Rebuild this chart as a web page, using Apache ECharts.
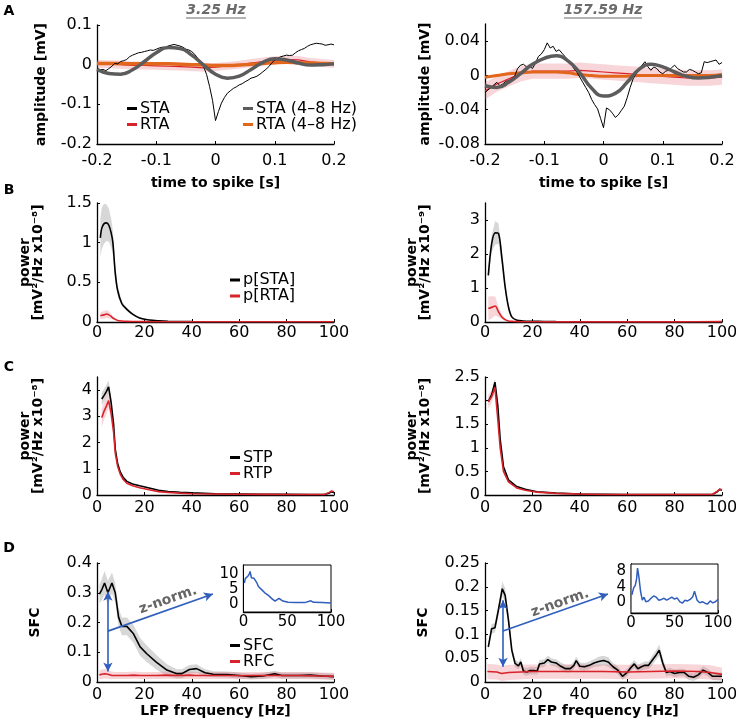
<!DOCTYPE html>
<html><head><meta charset="utf-8">
<script src="https://cdn.jsdelivr.net/npm/echarts@6/dist/echarts.min.js"></script>
<style>html,body{margin:0;padding:0;background:#fff}#c{width:736px;height:724px}</style>
</head><body><div id="c"></div>
<script>
// ---------------- DATA ----------------
// Panel A time grids (s)
const tFine = []; for (let i = 0; i <= 80; i++) tFine.push(Math.round((-0.2 + i * 0.005) * 1000) / 1000);
const tCoarse = []; for (let i = 0; i <= 20; i++) tCoarse.push(Math.round((-0.2 + i * 0.02) * 100) / 100);

// A left (3.25 Hz)
const staL = [-0.009,-0.013,-0.012,-0.015,-0.010,-0.004,0.003,0.002,0.008,0.010,
  0.013,0.020,0.024,0.027,0.030,0.031,0.033,0.035,0.037,0.036,
  0.039,0.042,0.044,0.043,0.047,0.049,0.051,0.049,0.047,0.044,
  0.039,0.037,0.033,0.026,0.016,0.006,-0.005,-0.025,-0.055,-0.090,
  -0.141,-0.118,-0.097,-0.083,-0.072,-0.066,-0.060,-0.056,-0.051,-0.048,
  -0.043,-0.039,-0.034,-0.032,-0.029,-0.024,-0.018,-0.012,-0.005,0.004,
  0.012,0.016,0.020,0.022,0.024,0.023,0.024,0.030,0.035,0.038,
  0.041,0.046,0.050,0.052,0.054,0.053,0.052,0.049,0.050,0.052,0.050];
const staFiltL = [-0.012,-0.022,-0.024,-0.013,0.008,0.030,0.043,0.041,0.024,-0.001,
  -0.024,-0.034,-0.029,-0.012,0.006,0.015,0.012,0.004,-0.001,0.000,0.002];
const rtaL = [0.002,0.001,0.000,-0.002,-0.002,-0.003,-0.004,-0.005,-0.006,-0.008,
  -0.006,-0.003,0.000,0.004,0.008,0.011,0.013,0.012,0.007,0.004,0.002];
const rtaErrL = [0.010,0.010,0.010,0.010,0.010,0.010,0.010,0.010,0.010,0.010,
  0.010,0.010,0.010,0.010,0.010,0.010,0.010,0.010,0.010,0.010,0.010];
const rtaFiltL = [0.003,0.003,0.003,0.002,0.002,0.002,0.002,0.001,0.000,-0.001,
  -0.002,-0.002,-0.001,0.001,0.003,0.005,0.006,0.005,0.004,0.003,0.002];

// A right (157.59 Hz)
const staR = [-0.020,-0.017,-0.014,-0.011,-0.008,-0.012,-0.010,-0.007,-0.006,-0.004,
  -0.001,0.008,0.012,0.013,0.010,0.011,0.008,0.014,0.022,0.025,
  0.030,0.038,0.032,0.034,0.028,0.030,0.026,0.022,0.018,0.014,
  0.008,0.004,-0.002,-0.008,-0.014,-0.020,-0.028,-0.034,-0.039,-0.050,
  -0.061,-0.038,-0.040,-0.044,-0.049,-0.046,-0.041,-0.036,-0.026,-0.014,
  -0.004,0.002,0.007,0.012,0.016,0.010,0.006,0.010,0.008,0.004,
  0.002,0.005,0.006,0.009,0.012,0.008,0.006,0.004,0.004,0.007,
  0.006,0.004,0.002,0.003,0.016,0.015,0.016,0.017,0.018,0.013,0.015];
const staFiltR = [-0.012,-0.014,-0.008,0.002,0.013,0.020,0.023,0.017,0.003,-0.015,
  -0.024,-0.021,-0.008,0.007,0.013,0.010,0.004,-0.001,-0.003,-0.002,0.000];
const rtaR = [-0.018,-0.010,-0.004,0.002,0.005,0.005,0.005,0.005,0.006,0.005,
  0.004,0.003,0.002,0.001,0.000,-0.001,-0.002,-0.003,-0.003,-0.003,-0.002];
const rtaErrR = [0.010,0.009,0.009,0.009,0.009,0.009,0.009,0.009,0.009,0.009,
  0.009,0.009,0.009,0.009,0.009,0.009,0.009,0.009,0.009,0.009,0.009];
const rtaFiltR = [-0.002,0.000,0.002,0.003,0.004,0.004,0.004,0.003,0.001,0.000,
  -0.001,-0.001,-0.001,0.000,0.000,0.000,0.000,0.000,0.000,0.000,0.001];

// B left: power of STA / RTA (x1e-8)
const bFreqL = [1.4,2,3,4,5,6,6.7,7.7,8.7,10.5,12.6,15,18,22,26,30,40,60,80,100];
const pStaL = [1.06,1.18,1.24,1.25,1.22,1.12,1.0,0.62,0.40,0.23,0.16,0.10,0.05,0.025,0.015,0.01,0.005,0.003,0.002,0.002];
const pStaErrL = [0.24,0.26,0.25,0.23,0.21,0.18,0.15,0.1,0.06,0.03,0.02,0.015,0.01,0.005,0.004,0.003,0.002,0.001,0.001,0.001];
const pRtaL = [0.08,0.085,0.09,0.1,0.09,0.07,0.05,0.035,0.02,0.012,0.008,0.006,0.005,0.004,0.003,0.003,0.003,0.003,0.003,0.003];
const pRtaErrL = [0.04,0.045,0.05,0.05,0.045,0.03,0.02,0.012,0.006,0.004,0.003,0.002,0.002,0.002,0.002,0.002,0.002,0.002,0.002,0.002];

// B right (x1e-9)
const bFreqR = [1.4,2.8,4.3,5.7,7.1,8.5,9.9,11.3,13.5,16,20,25,30,40,60,80,100];
const pStaR = [1.37,2.3,2.62,2.6,1.9,1.03,0.44,0.15,0.05,0.03,0.02,0.015,0.01,0.005,0.003,0.003,0.003];
const pStaErrR = [0.12,0.25,0.35,0.3,0.2,0.1,0.05,0.02,0.01,0.005,0.004,0.003,0.002,0.002,0.002,0.002,0.002];
const pRtaR = [0.4,0.43,0.47,0.3,0.15,0.07,0.03,0.02,0.01,0.008,0.006,0.005,0.005,0.005,0.005,0.005,0.01];
const pRtaErrR = [0.35,0.33,0.28,0.15,0.07,0.03,0.015,0.01,0.005,0.004,0.003,0.003,0.003,0.003,0.003,0.003,0.003];

// C left: STP / RTP (x1e-8)
const cFreqL = [2,3,4,4.9,6,7,7.7,8.7,9.8,11,12.6,15,18,22,26,30,35,40,50,60,70,80,90,96,98,99,100];
const stpL = [3.66,3.8,3.95,4.12,3.5,2.7,1.75,1.2,0.88,0.68,0.52,0.42,0.35,0.27,0.18,0.13,0.1,0.08,0.05,0.04,0.03,0.025,0.02,0.02,0.08,0.12,0.09];
const stpErrL = [0.25,0.25,0.25,0.25,0.2,0.15,0.08,0.05,0.04,0.03,0.025,0.02,0.02,0.015,0.01,0.01,0.01,0.01,0.008,0.006,0.005,0.005,0.005,0.005,0.01,0.01,0.01];
const rtpL = [2.95,3.2,3.4,3.6,3.1,2.4,1.6,1.1,0.8,0.6,0.45,0.35,0.28,0.2,0.13,0.1,0.07,0.05,0.04,0.03,0.025,0.02,0.02,0.02,0.1,0.15,0.12];
const rtpErrL = [0.35,0.33,0.3,0.28,0.22,0.15,0.08,0.05,0.04,0.03,0.025,0.02,0.02,0.015,0.01,0.01,0.01,0.01,0.008,0.006,0.005,0.005,0.005,0.005,0.02,0.02,0.02];

// C right (x1e-8)
const cFreqR = [1.4,2.8,4.2,5.4,6.4,7.8,9.9,13.4,17,21.9,30,40,50,60,70,80,90,96,98,99,100];
const stpR = [1.98,2.12,2.39,1.89,1.18,0.6,0.32,0.18,0.12,0.07,0.04,0.02,0.015,0.01,0.01,0.01,0.01,0.01,0.07,0.12,0.1];
const stpErrR = [0.06,0.07,0.08,0.06,0.04,0.03,0.02,0.01,0.01,0.008,0.005,0.004,0.003,0.003,0.003,0.003,0.003,0.003,0.01,0.01,0.01];
const rtpR = [1.98,2.08,2.28,1.6,1.0,0.5,0.28,0.15,0.1,0.06,0.035,0.02,0.012,0.01,0.01,0.01,0.01,0.01,0.08,0.12,0.11];
const rtpErrR = [0.15,0.13,0.1,0.06,0.04,0.03,0.02,0.01,0.01,0.008,0.005,0.004,0.003,0.003,0.003,0.003,0.003,0.003,0.01,0.01,0.01];

// D left: SFC / RFC
const dFreqL = [1,2,3.2,4.6,6.3,7.7,9.1,10.5,12.6,15.4,18.2,21,25,29.5,33.7,35.8,39,42,45.6,49,55,60,65,70,75,78,85,90,95,100];
const sfcL = [0.295,0.31,0.333,0.30,0.333,0.30,0.218,0.187,0.187,0.162,0.118,0.095,0.067,0.04,0.028,0.028,0.042,0.045,0.031,0.026,0.025,0.022,0.018,0.02,0.028,0.022,0.022,0.023,0.02,0.018];
const sfcErrL = [0.03,0.035,0.04,0.04,0.035,0.032,0.03,0.03,0.03,0.03,0.03,0.028,0.025,0.02,0.015,0.015,0.015,0.015,0.012,0.01,0.01,0.01,0.01,0.01,0.01,0.01,0.01,0.01,0.01,0.01];
const rfcL = [0.024,0.026,0.028,0.026,0.022,0.022,0.022,0.022,0.022,0.023,0.022,0.022,0.022,0.023,0.022,0.022,0.023,0.022,0.022,0.022,0.022,0.021,0.022,0.022,0.022,0.022,0.022,0.021,0.02,0.019];
const rfcErrL = [0.015,0.016,0.016,0.015,0.013,0.012,0.012,0.012,0.012,0.012,0.012,0.012,0.012,0.012,0.012,0.012,0.012,0.012,0.012,0.012,0.012,0.012,0.012,0.012,0.012,0.012,0.012,0.012,0.012,0.012];

// D right
const dFreqR = [1.4,2.8,4.2,5.6,7.3,8.5,9.9,11.3,12.7,14.1,
  15.1,16.2,17.6,19,20.5,22,23,25,26.5,28,
  30,32,34,36,37.5,38.5,40,42,44,46,
  48,50,52,54,56,58,60,61.5,63,64.5,
  66,67.5,69,70.5,72,73.5,75,76.5,78,80,
  82,84,86,88,90,92,94,96,98,100];
const sfcR = [0.074,0.112,0.114,0.15,0.196,0.182,0.13,0.067,0.039,0.034,
  0.042,0.023,0.021,0.024,0.024,0.023,0.038,0.040,0.047,0.042,
  0.040,0.033,0.028,0.028,0.035,0.045,0.033,0.032,0.035,0.040,
  0.043,0.045,0.042,0.032,0.025,0.012,0.020,0.030,0.038,0.028,
  0.032,0.035,0.035,0.045,0.055,0.067,0.040,0.020,0.022,0.018,
  0.020,0.020,0.012,0.010,0.015,0.025,0.020,0.012,0.012,0.012];
const sfcErrR = [0.008,0.01,0.01,0.012,0.015,0.015,0.012,0.01,0.008,0.008,
  0.008,0.008,0.008,0.008,0.008,0.008,0.008,0.008,0.008,0.008,
  0.008,0.008,0.008,0.008,0.008,0.008,0.008,0.008,0.008,0.008,
  0.01,0.01,0.01,0.008,0.008,0.008,0.008,0.008,0.008,0.008,
  0.008,0.008,0.008,0.01,0.01,0.012,0.01,0.008,0.008,0.008,
  0.008,0.008,0.008,0.008,0.008,0.008,0.008,0.008,0.008,0.008];
const rfcFreqR = [1,5,7,10,20,30,40,50,60,70,80,90,95,100];
const rfcR = [0.022,0.021,0.018,0.02,0.022,0.022,0.022,0.022,0.021,0.022,0.023,0.022,0.02,0.016];
const rfcErrR = [0.016,0.016,0.016,0.016,0.015,0.015,0.015,0.015,0.015,0.015,0.015,0.015,0.015,0.014];

// Insets: z-normalised SFC
const zFreqL = [1,2,3.5,5,6.5,7.5,9,10.5,12,14,15.5,17,19,21,24,28,32,36,40.6,45,51,60,70,77,80,90,100];
const zL = [7.0,8.5,8.6,9.3,10.0,10.9,8.8,8.2,8.6,8.4,7.0,5.9,5.3,4.8,3.9,3.1,2.0,1.1,2.0,1.1,0.7,0.6,0.6,1.2,0.7,0.6,0.5];
const zFreqR = [1,3,5,6.5,7.5,9,11,13,15,17,20,23,26,29,32,35,38,41,44,47,50,53,56,59,62,65,68,71,73,74.5,76,79,82,85,88,91,94,97,100];
const zR = [1.8,3.6,4.4,6.2,8.9,6.7,2.7,0.4,1.2,0.0,0.2,0.9,1.5,1.2,0.4,0.6,0.9,0.4,0.8,1.2,0.7,1.0,0.0,-0.4,0.4,0.2,0.6,1.3,2.8,2.4,0.4,-0.3,0.0,-0.4,-0.6,0.2,-0.3,0.0,0.6];

// Tick values
const ticksTime = [-0.2,-0.1,0,0.1,0.2];
const ticksFreq = [0,20,40,60,80,100];
const ticksInsetX = [0,50,100];
const ticksAL = [-0.2,-0.1,0,0.1];
const ticksAR = [-0.08,-0.04,0,0.04];
const ticksBL = [0,0.5,1,1.5];
const ticksBR = [0,1,2,3];
const ticksCL = [0,1,2,3,4];
const ticksCR = [0,0.5,1,1.5,2,2.5];
const ticksDL = [0,0.1,0.2,0.3,0.4];
const ticksDR = [0,0.05,0.1,0.15,0.2,0.25];
const ticksZL = [0,5,10];
const ticksZR = [0,4,8];

// Annotation arrows (data coords: [freq, SFC])
const arrowVL = [[4.6,0.035],[4.6,0.303]];
const arrowDL = [[4.6,0.171],[48.9,0.296]];
const arrowVR = [[7.6,0.032],[7.6,0.172]];
const arrowDR = [[7.6,0.107],[51.9,0.185]];

// ---------------- STYLE ----------------
const FONT = 'DejaVu Sans';
const BLACK = '#000000', RED = '#d9232a', ORANGE = '#e2661b', GRAYL = '#5c5c5c', BLUE = '#2f5ebd';
const PINK = 'rgba(228,105,115,0.28)', GRAYB = 'rgba(150,150,150,0.38)';

function pairs(xs, ys) { return xs.map((x, i) => [x, ys[i]]); }
function line(name, xs, ys, gi, color, width, z, extra) {
  return Object.assign({
    type: 'line', name, xAxisIndex: gi, yAxisIndex: gi, data: pairs(xs, ys),
    showSymbol: false, symbol: 'none', color: color,
    lineStyle: { color, width }, itemStyle: { color }, animation: false, silent: true, z: z
  }, extra || {});
}
// Confidence band drawn as one polygon through the axis scales (api.coord)
function band(id, xs, ys, es, gi, color) {
  const lo = ys.map((y, i) => y - es[i]);
  const hi = ys.map((y, i) => y + es[i]);
  return [{
    type: 'custom', name: id, xAxisIndex: gi, yAxisIndex: gi, silent: true, animation: false, z: 1,
    data: xs.map((x, i) => [x, lo[i], hi[i]]),
    encode: { x: 0, y: [1, 2] },
    clip: true,
    renderItem: function (params, api) {
      if (params.dataIndex !== 0) return null;
      const pts = [];
      for (let i = 0; i < xs.length; i++) pts.push(api.coord([xs[i], hi[i]]));
      for (let i = xs.length - 1; i >= 0; i--) pts.push(api.coord([xs[i], lo[i]]));
      return { type: 'polygon', shape: { points: pts }, style: { fill: color, stroke: null } };
    }
  }];
}

function grid(left, top, width, height, boxed) {
  return { left, top, width, height, containLabel: false, outerBoundsMode: 'none',
    show: !!boxed, borderColor: '#000', borderWidth: 1, backgroundColor: boxed ? '#fff' : 'transparent', z: boxed ? 5 : 0 };
}
function xAxis(gi, min, max, ticks, name, nameGap, margin, fs) {
  return {
    type: 'value', gridIndex: gi, min, max,
    axisLine: { show: true, onZero: false, lineStyle: { color: '#000', width: 1.3 } },
    axisTick: { show: true, inside: true, length: 3, customValues: ticks, lineStyle: { color: '#000', width: 1 } },
    axisLabel: { show: true, customValues: ticks, margin: margin, color: '#000', fontFamily: FONT, fontSize: fs || 16 },
    splitLine: { show: false },
    name: name || '', nameLocation: 'middle', nameGap: nameGap || 0,
    nameTextStyle: { fontFamily: FONT, fontWeight: 'bold', fontSize: 14, color: '#000' }
  };
}
function yAxis(gi, min, max, ticks, name, nameGap, fs) {
  return {
    type: 'value', gridIndex: gi, min, max,
    axisLine: { show: true, onZero: false, lineStyle: { color: '#000', width: 1.3 } },
    axisTick: { show: true, inside: true, length: 3, customValues: ticks, lineStyle: { color: '#000', width: 1 } },
    axisLabel: { show: true, customValues: ticks, margin: 5, color: '#000', fontFamily: FONT, fontSize: fs || 16 },
    splitLine: { show: false },
    name: name || '', nameLocation: 'middle', nameGap: nameGap || 0, nameRotate: 90,
    nameTextStyle: { fontFamily: FONT, fontWeight: 'bold', fontSize: 14, color: '#000', lineHeight: 13, align: 'center' }
  };
}

const grids = [
  grid(97, 25, 237, 119), grid(485, 24, 237, 120),
  grid(97, 203, 237, 119), grid(485, 203, 237, 119),
  grid(97, 377, 237, 118), grid(485, 377, 237, 118),
  grid(97, 563, 237, 119), grid(485, 563, 237, 119),
  grid(243.5, 565, 87.5, 47, true), grid(631, 564, 87, 49, true)
];
const xAxes = [
  xAxis(0, -0.2, 0.2, ticksTime, 'time to spike [s]', 32, 9),
  xAxis(1, -0.2, 0.2, ticksTime, 'time to spike [s]', 32, 9),
  xAxis(2, 0, 100, ticksFreq, '', 0, 3),
  xAxis(3, 0, 100, ticksFreq, '', 0, 3),
  xAxis(4, 0, 100, ticksFreq, '', 0, 5),
  xAxis(5, 0, 100, ticksFreq, '', 0, 5),
  xAxis(6, 0, 100, ticksFreq, 'LFP frequency [Hz]', 22, 5),
  xAxis(7, 0, 100, ticksFreq, 'LFP frequency [Hz]', 22, 5),
  xAxis(8, 0, 100, ticksInsetX, '', 0, 3, 15),
  xAxis(9, 0, 100, ticksInsetX, '', 0, 3, 15)
];
const yAxes = [
  yAxis(0, -0.2, 0.1, ticksAL, 'amplitude [mV]', 49),
  yAxis(1, -0.08, 0.06, ticksAR, 'amplitude [mV]', 53),
  yAxis(2, 0, 1.5, ticksBL, 'power\n[mV²/Hz x10⁻⁸]', 52),
  yAxis(3, 0, 3.5, ticksBR, 'power\n[mV²/Hz x10⁻⁹]', 53),
  yAxis(4, 0, 4.5, ticksCL, 'power\n[mV²/Hz x10⁻⁸]', 52),
  yAxis(5, 0, 2.5, ticksCR, 'power\n[mV²/Hz x10⁻⁸]', 53),
  yAxis(6, 0, 0.4, ticksDL, 'SFC', 55),
  yAxis(7, 0, 0.25, ticksDR, 'SFC', 55),
  yAxis(8, -2.5, 13, ticksZL, '', 0, 15),
  yAxis(9, -3, 10, ticksZR, '', 0, 15)
];

function arrows(v, d) {
  return {
    silent: true, animation: false, label: { show: false }, emphasis: { disabled: true },
    lineStyle: { color: BLUE, width: 1.6, type: 'solid' }, symbolSize: [7, 9],
    data: [
      [{ coord: v[0], symbol: 'arrow' }, { coord: v[1], symbol: 'arrow' }],
      [{ coord: d[0], symbol: 'none' }, { coord: d[1], symbol: 'arrow' }]
    ]
  };
}

const series = [].concat(
  // A left
  band('bRtaL', tCoarse, rtaL, rtaErrL, 0, PINK),
  [line('RTA', tCoarse, rtaL, 0, RED, 1.2, 3),
   line('RTA (4–8 Hz)', tCoarse, rtaFiltL, 0, ORANGE, 3.5, 4, { smooth: true }),
   line('STA', tFine, staL, 0, BLACK, 1, 5),
   line('STA (4–8 Hz)', tCoarse, staFiltL, 0, GRAYL, 3.5, 6, { smooth: true })],
  // A right
  band('bRtaR', tCoarse, rtaR, rtaErrR, 1, PINK),
  [line('RTA', tCoarse, rtaR, 1, RED, 1.2, 3),
   line('RTA (4–8 Hz)', tCoarse, rtaFiltR, 1, ORANGE, 3, 4, { smooth: true }),
   line('STA', tFine, staR, 1, BLACK, 1, 5),
   line('STA (4–8 Hz)', tCoarse, staFiltR, 1, GRAYL, 3.5, 6, { smooth: true })],
  // B
  band('bPStaL', bFreqL, pStaL, pStaErrL, 2, GRAYB),
  band('bPRtaL', bFreqL, pRtaL, pRtaErrL, 2, PINK),
  [line('p[STA]', bFreqL, pStaL, 2, BLACK, 1.6, 4, { smooth: 0.3 }),
   line('p[RTA]', bFreqL, pRtaL, 2, RED, 1.6, 5, { smooth: 0.3 })],
  band('bPStaR', bFreqR, pStaR, pStaErrR, 3, GRAYB),
  band('bPRtaR', bFreqR, pRtaR, pRtaErrR, 3, PINK),
  [line('p[STA]', bFreqR, pStaR, 3, BLACK, 1.6, 4, { smooth: 0.3 }),
   line('p[RTA]', bFreqR, pRtaR, 3, RED, 1.6, 5, { smooth: 0.3 })],
  // C
  band('bStpL', cFreqL, stpL, stpErrL, 4, GRAYB),
  band('bRtpL', cFreqL, rtpL, rtpErrL, 4, PINK),
  [line('STP', cFreqL, stpL, 4, BLACK, 1.6, 4),
   line('RTP', cFreqL, rtpL, 4, RED, 1.6, 5)],
  band('bStpR', cFreqR, stpR, stpErrR, 5, GRAYB),
  band('bRtpR', cFreqR, rtpR, rtpErrR, 5, PINK),
  [line('STP', cFreqR, stpR, 5, BLACK, 1.6, 4),
   line('RTP', cFreqR, rtpR, 5, RED, 1.6, 5)],
  // D
  band('bSfcL', dFreqL, sfcL, sfcErrL, 6, GRAYB),
  band('bRfcL', dFreqL, rfcL, rfcErrL, 6, PINK),
  [line('SFC', dFreqL, sfcL, 6, BLACK, 1.6, 4, { markLine: arrows(arrowVL, arrowDL) }),
   line('RFC', dFreqL, rfcL, 6, RED, 1.6, 5)],
  band('bSfcR', dFreqR, sfcR, sfcErrR, 7, GRAYB),
  band('bRfcR', rfcFreqR, rfcR, rfcErrR, 7, PINK),
  [line('SFC', dFreqR, sfcR, 7, BLACK, 1.6, 4, { markLine: arrows(arrowVR, arrowDR) }),
   line('RFC', rfcFreqR, rfcR, 7, RED, 1.6, 5)],
  // insets
  [line('zSFC-L', zFreqL, zL, 8, BLUE, 1.5, 10),
   line('zSFC-R', zFreqR, zR, 9, BLUE, 1.5, 10)]
);

function legend(names, left, top, lh) {
  return {
    data: names, orient: 'vertical', left, top, padding: 0, itemGap: 0,
    itemWidth: 10, itemHeight: 3, icon: 'rect', selectedMode: false,
    textStyle: { fontFamily: FONT, fontSize: 16, color: '#000', lineHeight: lh || 15, padding: [0, 0, 0, -2] }
  };
}

const txt = (text, x, y, font, fill, extra) => Object.assign({
  type: 'text', x, y, silent: true,
  style: { text, font, fill, align: 'center', verticalAlign: 'middle' }
}, extra || {});

const graphic = [
  txt('A', 9, 11, 'bold 14px "DejaVu Sans"', '#000'),
  txt('B', 9, 190, 'bold 14px "DejaVu Sans"', '#000'),
  txt('C', 9, 367, 'bold 14px "DejaVu Sans"', '#000'),
  txt('D', 9, 548, 'bold 14px "DejaVu Sans"', '#000'),
  txt('3.25 Hz', 216, 10, 'italic bold 14px "DejaVu Sans"', '#6a6a6a'),
  txt('157.59 Hz', 603, 10, 'italic bold 14px "DejaVu Sans"', '#6a6a6a'),
  { type: 'line', silent: true, shape: { x1: 186, y1: 18, x2: 246, y2: 18 }, style: { stroke: '#6a6a6a', lineWidth: 1.2 } },
  { type: 'line', silent: true, shape: { x1: 564, y1: 18, x2: 642, y2: 18 }, style: { stroke: '#6a6a6a', lineWidth: 1.2 } },
  txt('z-norm.', 168, 600, 'bold 14px "DejaVu Sans"', '#666', { rotation: 19.4 * Math.PI / 180 }),
  txt('z-norm.', 560, 603, 'bold 14px "DejaVu Sans"', '#666', { rotation: 19.4 * Math.PI / 180 })
];

const option = {
  backgroundColor: '#fff',
  animation: false,
  textStyle: { fontFamily: FONT },
  grid: grids, xAxis: xAxes, yAxis: yAxes, series,
  legend: [
    legend(['STA', 'RTA'], 127, 100.5),
    legend(['STA (4–8 Hz)', 'RTA (4–8 Hz)'], 243, 100.5),
    legend(['p[STA]', 'p[RTA]'], 230, 272, 16),
    legend(['STP', 'RTP'], 230, 449.5),
    legend(['SFC', 'RFC'], 230, 637.5)
  ],
  graphic
};

const chart = echarts.init(document.getElementById('c'), null, { renderer: 'canvas' });
chart.setOption(option);
</script></body></html>
